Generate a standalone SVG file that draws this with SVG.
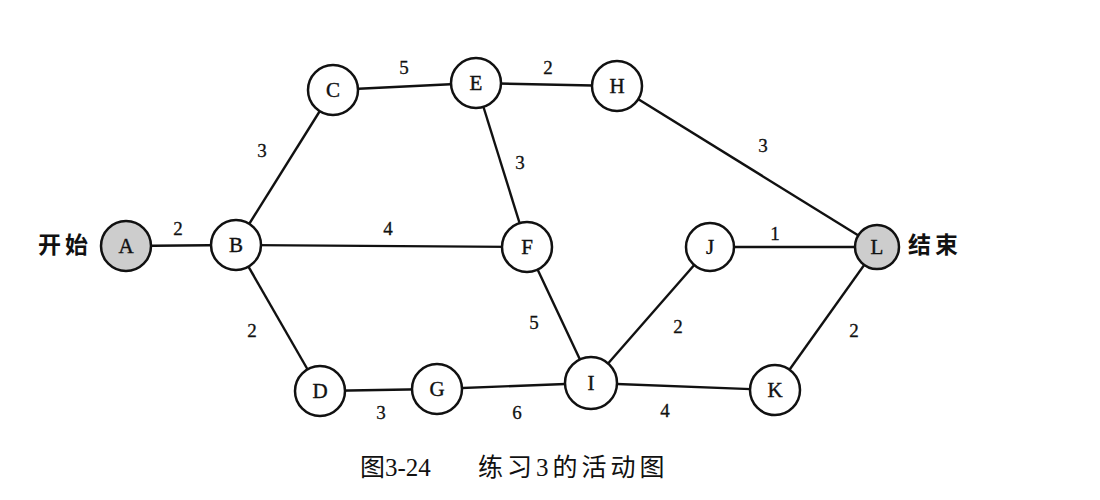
<svg xmlns="http://www.w3.org/2000/svg" width="1100" height="500" viewBox="0 0 1100 500">
<style>
.e{stroke:#111;stroke-width:2.4;fill:none}
.n{fill:#fff;stroke:#111;stroke-width:2.5}
.g{fill:#cdcdcd;stroke:#111;stroke-width:2.5}
.t{font-family:"Liberation Serif",serif;font-size:21px;fill:#111;stroke:#111;stroke-width:0.4;text-anchor:middle;dominant-baseline:central}
.w{font-family:"Liberation Serif",serif;font-size:19px;fill:#111;stroke:#111;stroke-width:0.3;text-anchor:middle;dominant-baseline:central}
.c{font-family:"Liberation Sans","Noto Sans CJK SC",sans-serif;font-size:23px;font-weight:bold;letter-spacing:4px;fill:#111;dominant-baseline:central}
.cap{font-family:"Liberation Serif","Noto Sans CJK SC",serif;font-size:25px;fill:#111;dominant-baseline:central}
</style>
<rect width="1100" height="500" fill="#fff"/>
<g id="connectors">
<line class="e" x1="126" y1="246" x2="236" y2="245"/>
<line class="e" x1="236" y1="245" x2="333" y2="90"/>
<line class="e" x1="236" y1="245" x2="527" y2="247"/>
<line class="e" x1="236" y1="245" x2="320" y2="391"/>
<line class="e" x1="333" y1="90" x2="476" y2="83"/>
<line class="e" x1="476" y1="83" x2="617" y2="86"/>
<line class="e" x1="476" y1="83" x2="527" y2="247"/>
<line class="e" x1="617" y1="86" x2="877" y2="247"/>
<line class="e" x1="527" y1="247" x2="591" y2="383"/>
<line class="e" x1="320" y1="391" x2="437" y2="389"/>
<line class="e" x1="437" y1="389" x2="591" y2="383"/>
<line class="e" x1="591" y1="383" x2="710" y2="247"/>
<line class="e" x1="591" y1="383" x2="775" y2="390"/>
<line class="e" x1="710" y1="247" x2="877" y2="247"/>
<line class="e" x1="877" y1="247" x2="775" y2="390"/>
</g>
<g id="edge-labels">
<text class="w" x="178" y="228">2</text>
<text class="w" x="262" y="150">3</text>
<text class="w" x="404" y="67">5</text>
<text class="w" x="548" y="67">2</text>
<text class="w" x="763" y="145">3</text>
<text class="w" x="520" y="162">3</text>
<text class="w" x="388" y="228">4</text>
<text class="w" x="252" y="330">2</text>
<text class="w" x="534" y="322">5</text>
<text class="w" x="678" y="326">2</text>
<text class="w" x="775" y="233">1</text>
<text class="w" x="854" y="330">2</text>
<text class="w" x="381" y="412">3</text>
<text class="w" x="517" y="412">6</text>
<text class="w" x="665" y="410">4</text>
</g>
<g id="A"><circle class="g" cx="126" cy="246" r="25"/><text class="t" x="126" y="246">A</text></g>
<g id="B"><circle class="n" cx="236" cy="245" r="25"/><text class="t" x="236" y="245">B</text></g>
<g id="C"><circle class="n" cx="333" cy="90" r="25"/><text class="t" x="333" y="90">C</text></g>
<g id="E"><circle class="n" cx="476" cy="83" r="25"/><text class="t" x="476" y="83">E</text></g>
<g id="H"><circle class="n" cx="617" cy="86" r="25"/><text class="t" x="617" y="86">H</text></g>
<g id="F"><circle class="n" cx="527" cy="247" r="25"/><text class="t" x="527" y="247">F</text></g>
<g id="J"><circle class="n" cx="710" cy="247" r="24"/><text class="t" x="710" y="247">J</text></g>
<g id="L"><circle class="g" cx="877" cy="247" r="22"/><text class="t" x="877" y="247">L</text></g>
<g id="D"><circle class="n" cx="320" cy="391" r="25"/><text class="t" x="320" y="391">D</text></g>
<g id="G"><circle class="n" cx="437" cy="389" r="25"/><text class="t" x="437" y="389">G</text></g>
<g id="I"><circle class="n" cx="591" cy="383" r="26"/><text class="t" x="591" y="383">I</text></g>
<g id="K"><circle class="n" cx="775" cy="390" r="25"/><text class="t" x="775" y="390">K</text></g>
<g id="labels">
<text class="c" x="38" y="245">开始</text>
<text class="c" x="908" y="245">结束</text>
<text class="cap" x="360" y="467">图3-24</text>
<text class="cap" x="478" y="467" letter-spacing="4">练习3的活动图</text>
</g>
</svg>
